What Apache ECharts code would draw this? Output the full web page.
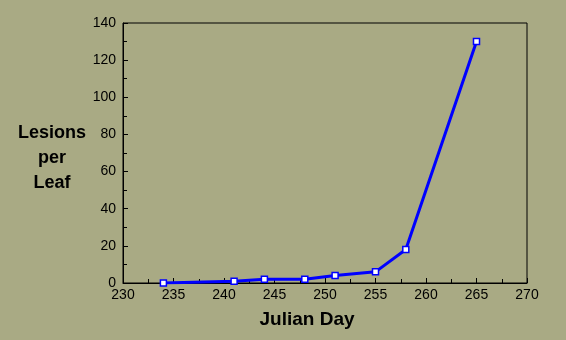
<!DOCTYPE html>
<html>
<head>
<meta charset="utf-8">
<script src="https://cdn.jsdelivr.net/npm/echarts@6/dist/echarts.min.js"></script>
<style>
html,body{margin:0;padding:0;background:#a9aa84;}
#c{width:566px;height:340px;}
</style>
</head>
<body>
<div id="c"></div>
<script>
const days = [234, 241, 244, 248, 251, 255, 258, 265];
const lesions = [0, 1, 2, 2, 4, 6, 18, 130];
const xTitle = 'Julian Day';
const yTitle = 'Lesions\nper\nLeaf';

const chart = echarts.init(document.getElementById('c'), null, {renderer: 'canvas'});
const font = '"Liberation Sans", Arial, sans-serif';
chart.setOption({
  backgroundColor: '#a9aa84',
  animation: false,
  grid: {left: 123, right: 39, top: 23, bottom: 57, show: true, borderColor: '#000', borderWidth: 1, backgroundColor: 'transparent'},
  xAxis: {
    type: 'value', min: 230, max: 270, interval: 5,
    axisLine: {show: true, lineStyle: {color: '#000', width: 1}},
    axisTick: {show: true, inside: true, length: 5, lineStyle: {color: '#000'}},
    minorTick: {show: true, splitNumber: 2, length: 4, lineStyle: {color: '#000'}},
    splitLine: {show: false},
    axisLabel: {color: '#000', fontFamily: font, fontSize: 14, margin: 5}
  },
  yAxis: {
    type: 'value', min: 0, max: 140, interval: 20,
    axisLine: {show: true, lineStyle: {color: '#000', width: 1}},
    axisTick: {show: true, inside: true, length: 5, lineStyle: {color: '#000'}},
    minorTick: {show: true, splitNumber: 2, length: 4, lineStyle: {color: '#000'}},
    splitLine: {show: false},
    axisLabel: {color: '#000', fontFamily: font, fontSize: 14, margin: 7}
  },
  series: [{
    type: 'line',
    data: days.map((d, i) => [d, lesions[i]]),
    lineStyle: {color: '#0000ff', width: 3},
    itemStyle: {color: '#ffffff', borderColor: '#0000ff', borderWidth: 1.5},
    symbol: 'rect', symbolSize: 6, showSymbol: true, z: 3
  }],
  graphic: [
    {type: 'text', left: 'center', top: 0, style: {text: ''}},
    {type: 'text', x: 307, y: 320, style: {text: xTitle, font: 'bold 19px ' + font, fill: '#000', textAlign: 'center', textVerticalAlign: 'middle'}},
    {type: 'text', x: 52, y: 158, style: {text: yTitle, font: 'bold 18px ' + font, fill: '#000', textAlign: 'center', textVerticalAlign: 'middle', lineHeight: 25}}
  ]
});
</script>
</body>
</html>
